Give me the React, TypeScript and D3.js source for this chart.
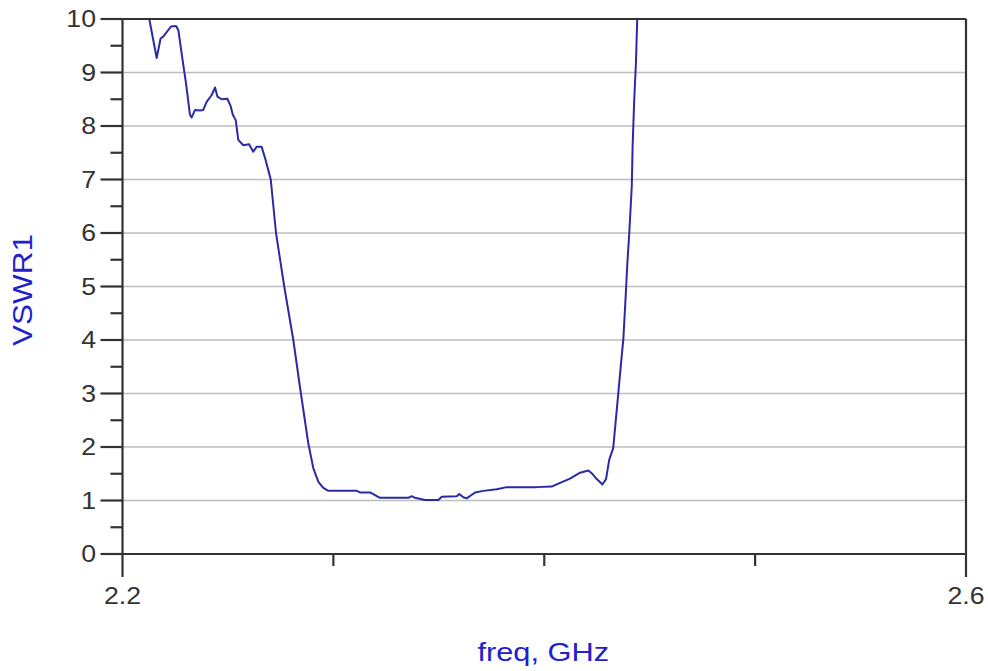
import React, { useRef, useEffect } from 'react';
import * as d3 from 'd3';

// values
const freqGHz = [
    2.2111, 2.2127, 2.2162, 2.2181, 2.2193, 2.2230, 2.2254, 2.2265, 2.2285, 2.2301,
    2.2320, 2.2328, 2.2344, 2.2368, 2.2383, 2.2399, 2.2423, 2.2439, 2.2450, 2.2470,
    2.2497, 2.2513, 2.2523, 2.2537, 2.2549, 2.2573, 2.2600, 2.2620, 2.2636, 2.2660,
    2.2676, 2.2691, 2.2703, 2.2728, 2.2767, 2.2810, 2.2846, 2.2881, 2.2905, 2.2929,
    2.2951, 2.2976, 2.3111, 2.3126, 2.3174, 2.3221, 2.3355, 2.3371, 2.3387, 2.3435,
    2.3498, 2.3514, 2.3585, 2.3597, 2.3616, 2.3632, 2.3672, 2.3711, 2.3775, 2.3822,
    2.3964, 2.4035, 2.4075, 2.4122, 2.4170, 2.4209, 2.4225, 2.4249, 2.4276, 2.4293,
    2.4308, 2.4327, 2.4351, 2.4367, 2.4375, 2.4386, 2.4394, 2.4403, 2.4415, 2.4419,
    2.4426, 2.4435, 2.4441, 2.4447,
];
const vswr = [
    10.4, 10.0, 9.27, 9.64, 9.67, 9.86, 9.87, 9.79, 9.23, 8.80,
    8.21, 8.16, 8.30, 8.29, 8.30, 8.45, 8.58, 8.72, 8.55, 8.50,
    8.51, 8.37, 8.21, 8.11, 7.74, 7.64, 7.66, 7.52, 7.61, 7.61,
    7.40, 7.18, 7.00, 6.00, 5.00, 4.00, 3.00, 2.07, 1.60, 1.35,
    1.24, 1.18, 1.18, 1.15, 1.15, 1.05, 1.05, 1.08, 1.05, 1.01,
    1.01, 1.07, 1.08, 1.12, 1.06, 1.04, 1.15, 1.18, 1.21, 1.25,
    1.25, 1.26, 1.33, 1.41, 1.52, 1.56, 1.51, 1.40, 1.30, 1.40,
    1.76, 1.98, 3.00, 3.69, 4.01, 4.81, 5.43, 5.99, 6.87, 7.61,
    8.42, 9.20, 10.0, 10.8,
];
const yTicks = [0, 1, 2, 3, 4, 5, 6, 7, 8, 9, 10];
const xTicks = [2.2, 2.3, 2.4, 2.5, 2.6];
const xTickLabels = ['2.2', '', '', '', '2.6'];

const W = 988, H = 671;

const VswrChart: React.FC = () => {
    const ref = useRef<SVGSVGElement>(null);

    useEffect(() => {
        if (!ref.current) return;
        const svg = d3.select(ref.current);
        svg.selectAll("*").remove();

        const left = 122.5, right = 966, top = 19, bottom = 554;
        const x = d3.scaleLinear().domain([2.2, 2.6]).range([left, right]);
        const y = d3.scaleLinear().domain([0, 10]).range([bottom, top]);
        const axisColor = "#333";
        const font = "'Liberation Sans', Arial, sans-serif";
        const stretch = 1.16;

        svg.append("rect").attr("width", W).attr("height", H).attr("fill", "white");

        svg.append("clipPath").attr("id", "plot-clip")
            .append("rect").attr("x", left).attr("y", top)
            .attr("width", right - left).attr("height", bottom - top);

        // Grid lines
        svg.append("g")
            .selectAll("line")
            .data(yTicks.filter(d => d > 0 && d < 10))
            .enter()
            .append("line")
            .attr("x1", left).attr("x2", right)
            .attr("y1", d => y(d)).attr("y2", d => y(d))
            .attr("stroke", "#bdbdbd").attr("stroke-width", 1.6);

        // Frame
        const frame = svg.append("g").attr("stroke", axisColor).attr("stroke-width", 2.2).attr("fill", "none");
        frame.append("line").attr("x1", left).attr("x2", right).attr("y1", top).attr("y2", top);
        frame.append("line").attr("x1", left).attr("x2", right).attr("y1", bottom).attr("y2", bottom);
        frame.append("line").attr("x1", left).attr("x2", left).attr("y1", top).attr("y2", bottom + 23);
        frame.append("line").attr("x1", right).attr("x2", right).attr("y1", top).attr("y2", bottom + 23);

        // Y ticks, major + minor
        frame.selectAll(".ymaj")
            .data(yTicks)
            .enter()
            .append("line")
            .attr("x1", left - 22).attr("x2", left)
            .attr("y1", d => y(d)).attr("y2", d => y(d));
        frame.selectAll(".ymin")
            .data(yTicks.slice(0, -1).map(d => d + 0.5))
            .enter()
            .append("line")
            .attr("x1", left - 12).attr("x2", left)
            .attr("y1", d => y(d)).attr("y2", d => y(d));

        // X ticks (inner ones short)
        frame.selectAll(".xt")
            .data(xTicks.slice(1, -1))
            .enter()
            .append("line")
            .attr("x1", d => x(d)).attr("x2", d => x(d))
            .attr("y1", bottom).attr("y2", bottom + 12);

        svg.append("g")
            .selectAll("text")
            .data(yTicks)
            .enter()
            .append("text")
            .attr("transform", d => `translate(96,${y(d)}) scale(${stretch},1)`)
            .attr("dy", "0.36em")
            .attr("text-anchor", "end")
            .style("font-family", font).style("font-size", "23px").style("fill", axisColor)
            .text(d => d);

        svg.append("g")
            .selectAll("text")
            .data(xTicks)
            .enter()
            .append("text")
            .attr("transform", d => `translate(${x(d)},604) scale(${stretch},1)`)
            .attr("text-anchor", "middle")
            .style("font-family", font).style("font-size", "23px").style("fill", axisColor)
            .text((d, i) => xTickLabels[i]);

        // Axis titles
        svg.append("text")
            .attr("transform", `translate(${(left + right) / 2 - 1},661) scale(${stretch},1)`)
            .attr("text-anchor", "middle")
            .style("font-family", font).style("font-size", "26.5px").style("fill", "#2020cc")
            .text("freq, GHz");

        svg.append("text")
            .attr("transform", `translate(31.5,290) rotate(-90) scale(1.145,1)`)
            .attr("text-anchor", "middle")
            .style("font-family", font).style("font-size", "27.5px").style("fill", "#2020cc")
            .text("VSWR1");

        // VSWR trace
        const line = d3.line<number>()
            .x((d, i) => x(freqGHz[i]))
            .y(d => y(d));

        svg.append("path")
            .datum(vswr)
            .attr("clip-path", "url(#plot-clip)")
            .attr("fill", "none")
            .attr("stroke", "#2a2aa6")
            .attr("stroke-width", 2)
            .attr("stroke-linejoin", "round")
            .attr("d", line);
    }, []);

    return <svg ref={ref} width={W} height={H} style={{ position: 'absolute', left: 0, top: 0, display: 'block' }} />;
};

export default function App() {
    return <VswrChart />;
}
